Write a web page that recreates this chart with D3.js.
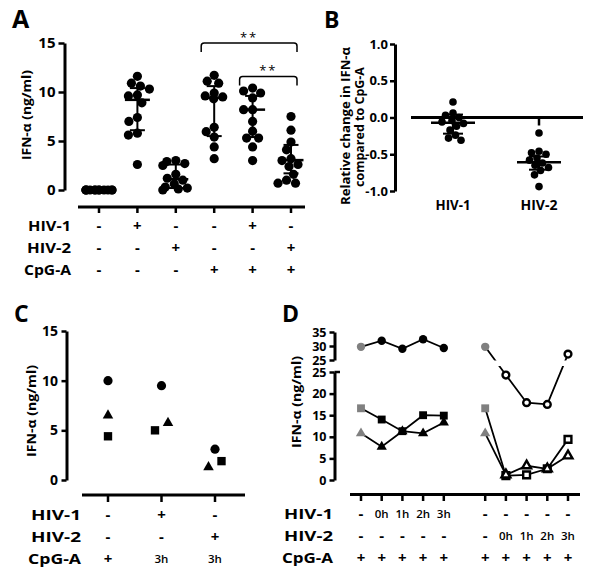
<!DOCTYPE html>
<html><head><meta charset="utf-8">
<script src="https://cdn.jsdelivr.net/npm/d3@7"></script>
<style>
body{margin:0;background:#fff}
svg{display:block}
</style>
</head><body>
<svg id="c" width="600" height="582"></svg>
<script>
// ---------------- DATA ----------------
// Panel A
const rowNames = ["HIV-1", "HIV-2", "CpG-A"];
const hiv1A = ["-", "+", "-", "-", "+", "-"];
const hiv2A = ["-", "-", "+", "-", "-", "+"];
const cpgA  = ["-", "-", "-", "+", "+", "+"];
const valuesA = [
  [0,0,0,0,0,0,0,0,0,0,0,0],
  [11.6,10.9,10.6,10.3,9.7,9.6,8.9,7.4,7.0,5.8,5.6,2.6],
  [3.0,2.9,2.7,2.5,1.6,1.2,1.0,0.6,0.3,0.2,0.1,0.0],
  [11.7,11.1,10.9,9.9,9.6,9.5,9.3,6.4,5.95,5.4,4.4,3.2],
  [10.4,10.1,9.9,9.4,8.2,8.2,7.0,6.0,5.3,5.3,4.4,3.0],
  [7.5,6.1,4.9,4.1,3.2,3.0,2.6,2.4,1.6,1.0,0.7,0.7]
];
const centerA = [0, 9.2, 1.1, 9.4, 8.2, 3.05];
const lowA    = [0, 6.1, 0.2, 5.5, 5.4, 1.7];
const highA   = [0, 10.4, 2.6, 10.6, 9.6, 4.6];
const ticksA  = [0, 5, 10, 15];
const bracketsA = [{from: 3, to: 5, label: "**"}, {from: 4, to: 5, label: "**"}];

// Panel B
const categoriesB = ["HIV-1", "HIV-2"];
const valuesB = [
  [0.21,0.06,0.03,0.0,-0.04,-0.06,-0.08,-0.12,-0.17,-0.24,-0.28,-0.31],
  [-0.21,-0.46,-0.48,-0.5,-0.55,-0.58,-0.62,-0.65,-0.68,-0.72,-0.78,-0.94]
];
const centerB = [-0.07, -0.61];
const lowB    = [-0.22, -0.71];
const highB   = [0.04, -0.53];
const ticksB  = [-1.0, -0.5, 0.0, 0.5, 1.0];

// Panel C
const hiv1C = ["-", "+", "-"];
const hiv2C = ["-", "-", "+"];
const cpgC  = ["+", "3h", "3h"];
const circleC   = [10.0, 9.5, 3.1];
const triangleC = [6.5, 5.75, 1.3];
const squareC   = [4.4, 5.0, 1.9];
const ticksC = [0, 5, 10, 15];

// Panel D
const hiv1D = ["-", "0h", "1h", "2h", "3h", "-", "-", "-", "-", "-"];
const hiv2D = ["-", "-", "-", "-", "-", "-", "0h", "1h", "2h", "3h"];
const cpgD  = ["+", "+", "+", "+", "+", "+", "+", "+", "+", "+"];
const circleD1   = [29.7, 31.9, 29.0, 32.4, 29.3];
const squareD1   = [16.6, 14.0, 11.3, 15.0, 14.9];
const triangleD1 = [10.8, 7.7, 11.3, 10.8, 13.3];
const circleD2   = [29.7, 24.3, 17.9, 17.5, 27.1];
const squareD2   = [16.6, 1.0, 1.2, 2.6, 9.4];
const triangleD2 = [10.8, 1.2, 3.3, 2.6, 5.6];
const ticksDLow  = [0, 5, 10, 15, 20, 25];
const ticksDHigh = [25, 30, 35];

// ---------------- HELPERS ----------------
const FONT = "'Open Sans', 'Liberation Sans', Arial, sans-serif";
const GRAY = "#808080";
const svg = d3.select("#c");

function styleAxis(g, size) {
  g.attr("font-family", FONT).attr("font-size", size).attr("font-weight", 700);
  g.select(".domain").attr("stroke-width", 3).attr("stroke", "#000");
  g.selectAll(".tick line").attr("stroke-width", 2.5).attr("stroke", "#000");
  g.selectAll(".tick text").attr("fill", "#000");
}

function txt(x, y, s, size, opts = {}) {
  const t = svg.append("text").attr("x", x).attr("y", y).text(s)
    .attr("font-family", FONT).attr("font-size", size)
    .attr("font-weight", opts.weight || 700)
    .attr("text-anchor", opts.anchor || "start").attr("fill", "#000");
  if (opts.len) t.attr("textLength", opts.len).attr("lengthAdjust", "spacingAndGlyphs");
  if (opts.rotate) t.attr("transform", `rotate(-90,${x},${y})`);
  if (opts.ls) t.attr("letter-spacing", opts.ls);
  return t;
}

function signText(x, baseline, s) {
  if (s === "+" || s === "-") txt(x, baseline, s, 15, {anchor: "middle"});
  else txt(x, baseline - 1, s, 11.5, {anchor: "middle", weight: 600});
}

function swarm(vals, y, minDist, maxOff) {
  const placed = [];
  return vals.map(v => {
    const py = y(v);
    let best = 0, bestPen = Infinity;
    for (let o = 0; o <= maxOff + 1e-9; o += 0.5) {
      for (const s of (o === 0 ? [0] : [-o, o])) {
        let pen = 0;
        placed.forEach(p => {
          const d = Math.hypot(p.x - s, p.y - py);
          if (d < minDist) pen += minDist - d;
        });
        if (pen < bestPen - 1e-6) { bestPen = pen; best = s; }
      }
    }
    placed.push({x: best, y: py});
    return {v, dx: best};
  });
}

function errBar(g, x, y, c, lo, hi, meanHalf, capHalf) {
  g.append("line").attr("x1", x).attr("x2", x).attr("y1", y(lo)).attr("y2", y(hi))
    .attr("stroke", "#000").attr("stroke-width", 2);
  [lo, hi].forEach(v => g.append("line").attr("x1", x - capHalf).attr("x2", x + capHalf)
    .attr("y1", y(v)).attr("y2", y(v)).attr("stroke", "#000").attr("stroke-width", 2));
  g.append("line").attr("x1", x - meanHalf).attr("x2", x + meanHalf)
    .attr("y1", y(c)).attr("y2", y(c)).attr("stroke", "#000").attr("stroke-width", 2.5);
}

// ---------------- PANEL A ----------------
txt(12, 28, "A", 25);
const yA = d3.scaleLinear().domain([0, 15]).range([190, 43]);
const xA = d3.scalePoint().domain(d3.range(6)).range([99, 291]);
const axA = svg.append("g").attr("transform", "translate(64.5,0)")
  .call(d3.axisLeft(yA).tickValues(ticksA).tickSize(6).tickSizeOuter(0).tickPadding(3).tickFormat(d3.format("d")));
styleAxis(axA, 15);
txt(31, 115, "IFN-\u03b1 (ng/ml)", 13, {anchor: "middle", rotate: true, len: 90});

const gA = svg.append("g");
valuesA.forEach((vals, i) => {
  swarm(vals, yA, 9, 13).forEach(p => {
    gA.append("circle").attr("cx", xA(i) + p.dx).attr("cy", yA(p.v)).attr("r", 4.6).attr("fill", "#000");
  });
  errBar(gA, xA(i), yA, centerA[i], lowA[i], highA[i], 12.5, 7.5);
});

// brackets
const bracketTops = [43, 76.5];
bracketsA.forEach((b, k) => {
  const x1 = xA(b.from) - 13, x2 = xA(b.to) + 6, top = bracketTops[k], leg = 9, rr = 3;
  const p = d3.path();
  p.moveTo(x1, top + leg);
  p.lineTo(x1, top + rr);
  p.quadraticCurveTo(x1, top, x1 + rr, top);
  p.lineTo(x2 - rr, top);
  p.quadraticCurveTo(x2, top, x2, top + rr);
  p.lineTo(x2, top + leg);
  svg.append("path").attr("d", p.toString()).attr("fill", "none").attr("stroke", "#000").attr("stroke-width", 1.5);
  txt((x1 + x2) / 2, top - 1.5, b.label, 13, {anchor: "middle", weight: 400, ls: 2});
});

// x axis A
svg.append("line").attr("x1", 78).attr("x2", 305).attr("y1", 207).attr("y2", 207).attr("stroke", "#000").attr("stroke-width", 3);
xA.domain().forEach(i => svg.append("line").attr("x1", xA(i)).attr("x2", xA(i)).attr("y1", 207).attr("y2", 213)
  .attr("stroke", "#000").attr("stroke-width", 2.5));
const rowsA = [hiv1A, hiv2A, cpgA], baseA = [230.5, 252.5, 274.5], lenA = [43, 44, 47];
rowsA.forEach((row, r) => {
  txt(71, baseA[r], rowNames[r], 13.5, {anchor: "end", len: lenA[r]});
  row.forEach((s, i) => signText(xA(i), baseA[r], s));
});

// ---------------- PANEL B ----------------
txt(324, 28, "B", 23);
const yB = d3.scaleLinear().domain([-1, 1]).range([191, 44]);
const xB = d3.scalePoint().domain(categoriesB).range([453, 539]);
const axB = svg.append("g").attr("transform", "translate(395,0)")
  .call(d3.axisLeft(yB).tickValues(ticksB).tickSize(5).tickSizeOuter(0).tickPadding(2).tickFormat(d3.format(".1f")));
styleAxis(axB, 13);
axB.selectAll(".tick text").text(d => d3.format(".1f")(d).replace("\u2212", "-"));
txt(349.5, 126, "Relative change in IFN-\u03b1", 13, {anchor: "middle", rotate: true, len: 158});
txt(363.5, 127, "compared to CpG-A", 13, {anchor: "middle", rotate: true, len: 120});

svg.append("line").attr("x1", 411).attr("x2", 583).attr("y1", yB(0)).attr("y2", yB(0)).attr("stroke", "#000").attr("stroke-width", 3);
categoriesB.forEach(c => svg.append("line").attr("x1", xB(c)).attr("x2", xB(c)).attr("y1", yB(0)).attr("y2", yB(0) + 8)
  .attr("stroke", "#000").attr("stroke-width", 2.5));
const gB = svg.append("g");
valuesB.forEach((vals, i) => {
  const c = categoriesB[i];
  swarm(vals, yB, 7.4, 12).forEach(p => {
    gB.append("circle").attr("cx", xB(c) + p.dx).attr("cy", yB(p.v)).attr("r", 3.8).attr("fill", "#000");
  });
  errBar(gB, xB(c), yB, centerB[i], lowB[i], highB[i], 22, 10);
});
const lenB = [35, 37];
categoriesB.forEach((c, i) => txt(xB(c), 210, c, 15, {anchor: "middle", len: lenB[i]}));

// ---------------- PANEL C ----------------
txt(14, 322, "C", 23);
const yC = d3.scaleLinear().domain([0, 15]).range([480, 331]);
const xC = d3.scalePoint().domain(d3.range(3)).range([108, 215]);
const axC = svg.append("g").attr("transform", "translate(66.5,0)")
  .call(d3.axisLeft(yC).tickValues(ticksC).tickSize(5).tickSizeOuter(0).tickPadding(3.5).tickFormat(d3.format("d")));
styleAxis(axC, 14);
txt(36, 411, "IFN-\u03b1 (ng/ml)", 13, {anchor: "middle", rotate: true, len: 92});

const symC = {
  circle: d3.symbol().type(d3.symbolCircle).size(Math.PI * 4.6 * 4.6),
  square: d3.symbol().type(d3.symbolSquare).size(70),
  triangle: d3.symbol().type(d3.symbolTriangle).size(48)
};
const seriesC = [["circle", circleC], ["triangle", triangleC], ["square", squareC]];
d3.range(3).forEach(i => {
  // markers closer than 10px vertically are pushed apart sideways
  const pts = seriesC.map(([k, arr]) => ({k, v: arr[i], y: yC(arr[i]), dx: 0}));
  for (let a = 0; a < pts.length; a++) for (let b = a + 1; b < pts.length; b++) {
    const pa = pts[a], pb = pts[b];
    if (Math.abs(pa.y - pb.y) < 10 && pa.k !== "circle" && pb.k !== "circle") {
      const lowP = pa.v < pb.v ? pa : pb, highP = pa.v < pb.v ? pb : pa;
      lowP.dx = -6.5;
      highP.dx = 6.5;
    }
  }
  pts.forEach(p => svg.append("path").attr("d", symC[p.k]())
    .attr("transform", `translate(${xC(i) + p.dx},${p.y})`).attr("fill", "#000"));
});

svg.append("line").attr("x1", 82).attr("x2", 245).attr("y1", 495).attr("y2", 495).attr("stroke", "#000").attr("stroke-width", 3);
xC.domain().forEach(i => svg.append("line").attr("x1", xC(i)).attr("x2", xC(i)).attr("y1", 495).attr("y2", 502)
  .attr("stroke", "#000").attr("stroke-width", 2.5));
const rowsC = [hiv1C, hiv2C, cpgC], baseC = [520, 541.5, 563.5], lenC = [50, 50, 53];
rowsC.forEach((row, r) => {
  txt(81, baseC[r], rowNames[r], 13.5, {anchor: "end", len: lenC[r]});
  row.forEach((s, i) => signText(xC(i), baseC[r], s));
});

// ---------------- PANEL D ----------------
txt(282, 322, "D", 23);
const yDl = d3.scaleLinear().domain([0, 25]).range([480, 372]);
const yDu = d3.scaleLinear().domain([25, 35]).range([360, 332]);
const yD = v => v > 25 ? yDu(v) : yDl(v);
const xD = d3.scalePoint().domain(d3.range(11)).range([361, 568]);
const slotsD = [0, 1, 2, 3, 4, 6, 7, 8, 9, 10];
const axDl = svg.append("g").attr("transform", "translate(334.5,0)")
  .call(d3.axisLeft(yDl).tickValues(ticksDLow).tickSize(5).tickSizeOuter(0).tickPadding(3).tickFormat(d3.format("d")));
styleAxis(axDl, 12.5);
const axDu = svg.append("g").attr("transform", "translate(334.5,0)")
  .call(d3.axisLeft(yDu).tickValues(ticksDHigh).tickSize(5).tickSizeOuter(0).tickPadding(3).tickFormat(d3.format("d")));
styleAxis(axDu, 12.5);
svg.append("line").attr("x1", 334.5).attr("x2", 340).attr("y1", yDl(25)).attr("y2", yDl(25)).attr("stroke", "#000").attr("stroke-width", 2.5);
txt(301, 402, "IFN-\u03b1 (ng/ml)", 12.5, {anchor: "middle", rotate: true, len: 92});

const clip = svg.append("clipPath").attr("id", "brk");
clip.append("rect").attr("x", 340).attr("y", 0).attr("width", 260).attr("height", 360.5);
clip.append("rect").attr("x", 340).attr("y", 366).attr("width", 260).attr("height", 200);
const gLines = svg.append("g").attr("clip-path", "url(#brk)");
const gMarks = svg.append("g");
const line = d3.line().x(d => d.x).y(d => d.y);
const symD = {
  circle: (open) => d3.symbol().type(d3.symbolCircle).size(open ? Math.PI * 3.4 * 3.4 : Math.PI * 4.2 * 4.2)(),
  square: (open) => d3.symbol().type(d3.symbolSquare).size(open ? 46 : 62)(),
  triangle: (open) => d3.symbol().type(d3.symbolTriangle).size(open ? 34 : 46)()
};
const seriesD = [
  {k: "circle", vals: circleD1, slots: [0, 1, 2, 3, 4], open: false},
  {k: "square", vals: squareD1, slots: [0, 1, 2, 3, 4], open: false},
  {k: "triangle", vals: triangleD1, slots: [0, 1, 2, 3, 4], open: false},
  {k: "circle", vals: circleD2, slots: [6, 7, 8, 9, 10], open: true},
  {k: "square", vals: squareD2, slots: [6, 7, 8, 9, 10], open: true},
  {k: "triangle", vals: triangleD2, slots: [6, 7, 8, 9, 10], open: true}
];
seriesD.forEach(s => {
  const pts = s.vals.map((v, j) => ({x: xD(s.slots[j]), y: yD(v)}));
  gLines.append("path").attr("d", line(pts)).attr("fill", "none").attr("stroke", "#000").attr("stroke-width", 1.8);
});
seriesD.forEach(s => {
  s.vals.forEach((v, j) => {
    const first = j === 0;
    const m = gMarks.append("path").attr("d", symD[s.k](s.open && !first))
      .attr("transform", `translate(${xD(s.slots[j])},${yD(v)})`);
    if (first) m.attr("fill", GRAY);
    else if (s.open) m.attr("fill", "#fff").attr("stroke", "#000").attr("stroke-width", 2.4);
    else m.attr("fill", "#000");
  });
});

svg.append("line").attr("x1", 350).attr("x2", 580).attr("y1", 494.5).attr("y2", 494.5).attr("stroke", "#000").attr("stroke-width", 3);
slotsD.forEach(i => svg.append("line").attr("x1", xD(i)).attr("x2", xD(i)).attr("y1", 494.5).attr("y2", 501)
  .attr("stroke", "#000").attr("stroke-width", 2.5));
const rowsD = [hiv1D, hiv2D, cpgD], baseD = [519, 541, 563], lenD = [49, 49, 51];
rowsD.forEach((row, r) => {
  txt(333, baseD[r], rowNames[r], 13.5, {anchor: "end", len: lenD[r]});
  row.forEach((s, j) => signText(xD(slotsD[j]), baseD[r], s));
});
</script>
</body></html>
